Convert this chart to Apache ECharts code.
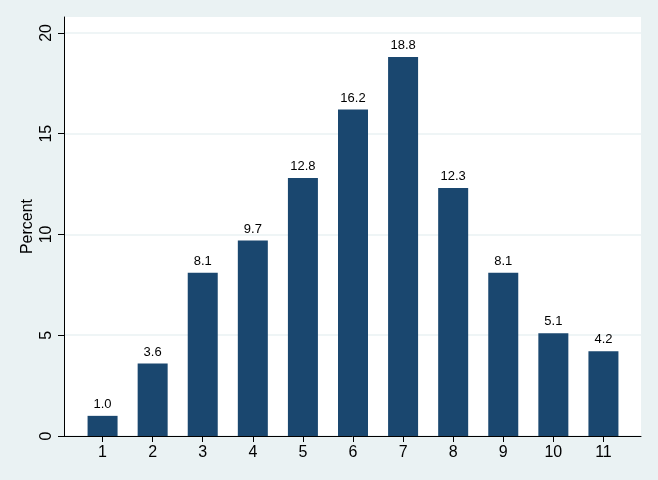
<!DOCTYPE html>
<html><head><meta charset="utf-8">
<script src="https://cdn.jsdelivr.net/npm/echarts@6/dist/echarts.min.js"></script>
<style>html,body{margin:0;padding:0;background:#eaf2f3}#c{width:658px;height:480px}</style>
</head><body><div id="c"></div>
<script>
const categories = [1,2,3,4,5,6,7,8,9,10,11];
const percentValues = [1.0,3.6,8.1,9.7,12.8,16.2,18.8,12.3,8.1,5.1,4.2];
const yTicks = [0,5,10,15,20];

const chart = echarts.init(document.getElementById('c'), null, {renderer:'canvas'});
const font = 'Liberation Sans, Arial, Helvetica, sans-serif';
chart.setOption({
  backgroundColor: '#eaf2f3',
  animation: false,
  grid: {left:64, right:17, top:17, bottom:44, show:true, backgroundColor:'#ffffff', borderWidth:0},
  xAxis: {
    type:'value', min:0.23, max:11.75,
    axisLine:{show:true, onZero:false, lineStyle:{color:'#000', width:1}},
    axisTick:{show:true, length:6, customValues:categories, lineStyle:{color:'#000'}},
    axisLabel:{customValues:categories, margin:9, fontSize:16, color:'#000', fontFamily:font},
    splitLine:{show:false}
  },
  yAxis: {
    type:'value', min:0, max:20.79,
    name:'Percent', nameLocation:'middle', nameGap:28, nameRotate:90, nameMoveOverlap:false,
    nameTextStyle:{fontSize:16, color:'#000', fontFamily:font},
    axisLine:{show:true, lineStyle:{color:'#000', width:1}},
    axisTick:{show:true, length:6, customValues:yTicks, lineStyle:{color:'#000'}},
    axisLabel:{customValues:yTicks, rotate:90, margin:9, fontSize:16, color:'#000', fontFamily:font},
    splitLine:{show:true, lineStyle:{color:'#eaf2f3', width:1.5}}
  },
  series: [{
    type:'bar',
    data: categories.map((c,i)=>[c, percentValues[i]]),
    barWidth:30,
    itemStyle:{color:'#1a476f'},
    label:{show:true, position:'top', distance:5, fontSize:13, color:'#000', fontFamily:font,
      formatter:p=>p.value[1].toFixed(1)}
  }]
});
</script></body></html>
